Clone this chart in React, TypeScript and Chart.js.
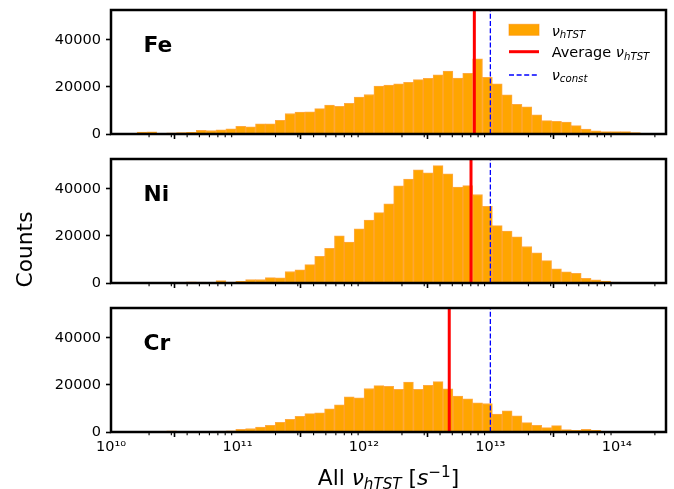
import React, { useEffect, useRef } from "react";
import { Chart, registerables } from "chart.js";

Chart.register(...registerables);

// ---------------- data ----------------
// log10 of the first histogram bin edge and the bin width (in decades), shared by all panels
const BIN_LOG_MIN = 10.206;
const BIN_LOG_WIDTH = 0.07805;

const FE_COUNTS = [
  800, 900, 150, 450, 600, 750, 1600, 1500, 1800, 2200,
  3300, 3000, 4300, 4300, 5800, 8700, 9300, 9400, 10800, 12300,
  11800, 13000, 15700, 16800, 20400, 20800, 21300, 22000, 23100, 23700,
  25200, 26700, 23800, 25800, 31900, 24100, 21300, 16600, 12600, 11600,
  8100, 5700, 5400, 5100, 3550, 2100, 1400, 1000, 1000, 1000,
  570,
];
const NI_COUNTS = [
  0, 0, 0, 0, 150, 450, 350, 300, 1000, 350,
  700, 1500, 1500, 2300, 2200, 4900, 5600, 7800, 11300, 14700,
  20000, 17400, 23000, 26700, 29900, 33600, 41300, 44200, 48100, 46800,
  49900, 46400, 40800, 41400, 37600, 32600, 24400, 22100, 19600, 15500,
  12800, 9500, 6000, 4800, 4100, 2000, 1300, 850, 430, 0,
  0,
];
const CR_COUNTS = [
  0, 0, 250, 450, 0, 200, 250, 300, 400, 500,
  1100, 1500, 2100, 2850, 4100, 5400, 6700, 7800, 8200, 9800,
  11500, 15000, 14500, 18500, 19700, 19400, 18100, 21200, 18100, 19800,
  21400, 18400, 15300, 14100, 12400, 12100, 7600, 9000, 6900, 4000,
  2850, 1850, 2700, 1000, 700, 1140, 700, 0, 0, 0,
  0,
];
const PANEL_LABELS = ["Fe", "Ni", "Cr"];
const PANEL_COUNTS = [FE_COUNTS, NI_COUNTS, CR_COUNTS];
const AVERAGE_NU = [7.47e12, 7.03e12, 4.73e12];
const NU_CONST = 1e13;

const X_MIN = 1e10;
const X_MAX = 2.449e14;
const Y_MAX = 52700;
const X_TICK_EXPONENTS = [10, 11, 12, 13, 14];
const Y_TICKS = [0, 20000, 40000];

// ---------------- layout ----------------
const W = 674;
const PLOT_LEFT = 111;
const PLOT_RIGHT = 666;
const PANEL_TOP = [0, 150, 300];
const PANEL_H = [150, 150, 189];
const AREA_TOP = [10, 9, 8];
const AREA_BOTTOM = [134, 133, 132];

const FONT = "DejaVu Sans";
const TICK_SIZE = 14.5;
const LABEL_SIZE = 21.75;

const SUP: Record<string, string> = {
  "0": "⁰", "1": "¹", "2": "²", "3": "³", "4": "⁴",
  "5": "⁵", "6": "⁶", "7": "⁷", "8": "⁸", "9": "⁹", "-": "⁻",
};
const sup = (n: number) => String(n).split("").map((c) => SUP[c]).join("");

type Part = { t: string; size: number; italic?: boolean; bold?: boolean; dy?: number };
const fontOf = (p: Part) =>
  `${p.italic ? "italic " : ""}${p.bold ? "bold " : ""}${p.size}px "${FONT}"`;

function drawRich(ctx: CanvasRenderingContext2D, parts: Part[], x: number, y: number, center = false) {
  let total = 0;
  for (const p of parts) {
    ctx.font = fontOf(p);
    total += ctx.measureText(p.t).width;
  }
  let cx = center ? x - total / 2 : x;
  ctx.textAlign = "left";
  ctx.textBaseline = "alphabetic";
  for (const p of parts) {
    ctx.font = fontOf(p);
    ctx.fillText(p.t, cx, y + (p.dy || 0));
    cx += ctx.measureText(p.t).width;
  }
}

function makeOverlay(idx: number) {
  return {
    id: "overlay" + idx,
    afterDraw(chart: any) {
      const ctx: CanvasRenderingContext2D = chart.ctx;
      const { left, right, top, bottom } = chart.chartArea;
      const xs = chart.scales.x;
      ctx.save();
      ctx.fillStyle = "#000";
      ctx.strokeStyle = "#000";
      // minor ticks
      ctx.lineWidth = 1.1;
      for (const e of X_TICK_EXPONENTS) {
        for (let k = 2; k <= 9; k++) {
          const v = k * Math.pow(10, e);
          if (v <= X_MIN || v >= X_MAX) continue;
          const px = xs.getPixelForValue(v);
          ctx.beginPath();
          ctx.moveTo(px, bottom);
          ctx.lineTo(px, bottom + 3.2);
          ctx.stroke();
        }
      }
      // frame
      ctx.lineWidth = 2.5;
      ctx.strokeRect(left, top, right - left, bottom - top);
      // panel label
      drawRich(ctx, [{ t: PANEL_LABELS[idx], size: LABEL_SIZE, bold: true }], left + 32.5, top + 42.3);

      if (idx === 0) {
        // legend
        const lx = 509;
        const tx = 551.7;
        ctx.fillStyle = "#ffa500";
        ctx.fillRect(lx, 24.3, 30, 11);
        ctx.strokeStyle = "rgba(255,140,0,0.6)";
        ctx.lineWidth = 1;
        ctx.strokeRect(lx, 24.3, 30, 11);
        ctx.strokeStyle = "red";
        ctx.lineWidth = 3;
        ctx.beginPath();
        ctx.moveTo(lx, 51.7);
        ctx.lineTo(lx + 30, 51.7);
        ctx.stroke();
        ctx.strokeStyle = "blue";
        ctx.lineWidth = 1.3;
        ctx.setLineDash([5, 2.6]);
        ctx.beginPath();
        ctx.moveTo(lx, 75);
        ctx.lineTo(lx + 30, 75);
        ctx.stroke();
        ctx.setLineDash([]);
        ctx.fillStyle = "#000";
        drawRich(ctx, [
          { t: "ν", size: TICK_SIZE, italic: true },
          { t: "hTST", size: 10.2, italic: true, dy: 2.5 },
        ], tx, 35.7);
        drawRich(ctx, [
          { t: "Average ", size: TICK_SIZE },
          { t: "ν", size: TICK_SIZE, italic: true },
          { t: "hTST", size: 10.2, italic: true, dy: 2.5 },
        ], tx, 57.3);
        drawRich(ctx, [
          { t: "ν", size: TICK_SIZE, italic: true },
          { t: "const", size: 10.2, italic: true, dy: 2.5 },
        ], tx, 79.6);
      }
      if (idx === 1) {
        ctx.translate(32, 249.5 - PANEL_TOP[1]);
        ctx.rotate(-Math.PI / 2);
        drawRich(ctx, [{ t: "Counts", size: LABEL_SIZE }], 0, 0, true);
      }
      if (idx === 2) {
        drawRich(ctx, [
          { t: "All ", size: LABEL_SIZE },
          { t: "ν", size: LABEL_SIZE, italic: true },
          { t: "hTST", size: 15.2, italic: true, dy: 4.2 },
          { t: " [", size: LABEL_SIZE },
          { t: "s", size: LABEL_SIZE, italic: true },
          { t: "−1", size: 15.2, dy: -8.5 },
          { t: "]", size: LABEL_SIZE },
        ], (PLOT_LEFT + PLOT_RIGHT) / 2, 485 - PANEL_TOP[2], true);
      }
      ctx.restore();
    },
  };
}

function Panel({ idx }: { idx: number }) {
  const ref = useRef<HTMLCanvasElement>(null);
  useEffect(() => {
    const counts = PANEL_COUNTS[idx];
    const bars = counts
      .map((c, i) => ({ x: Math.pow(10, BIN_LOG_MIN + (i + 0.5) * BIN_LOG_WIDTH), y: c }))
      .filter((p) => p.y > 0);
    const isBottom = idx === 2;
    const chart = new Chart(ref.current as HTMLCanvasElement, {
      type: "bar",
      data: {
        datasets: [
          {
            type: "line",
            data: [{ x: AVERAGE_NU[idx], y: 0 }, { x: AVERAGE_NU[idx], y: Y_MAX }],
            borderColor: "red",
            borderWidth: 3,
            pointRadius: 0,
            order: 0,
          } as any,
          {
            type: "line",
            data: [{ x: NU_CONST, y: 0 }, { x: NU_CONST, y: Y_MAX }],
            borderColor: "blue",
            borderWidth: 1.3,
            borderDash: [5, 2.2],
            pointRadius: 0,
            order: 1,
          } as any,
          {
            type: "bar",
            data: bars,
            backgroundColor: "#ffa500",
            borderColor: "rgba(255,140,0,0.75)",
            borderWidth: 1,
            barPercentage: 1,
            categoryPercentage: 1,
            order: 2,
          } as any,
        ],
      },
      options: {
        responsive: false,
        animation: false,
        events: [],
        layout: { padding: { left: 0, right: W - PLOT_RIGHT, top: AREA_TOP[idx], bottom: 0 } },
        plugins: { legend: { display: false }, tooltip: { enabled: false } },
        scales: {
          x: {
            type: "logarithmic",
            min: X_MIN,
            max: X_MAX,
            offset: false,
            border: { display: false },
            grid: { drawOnChartArea: false, drawTicks: true, tickLength: 5, tickWidth: 1.6, tickColor: "#000" },
            ticks: {
              display: isBottom,
              autoSkip: false,
              maxRotation: 0,
              padding: 2,
              color: "#000",
              font: { family: FONT, size: TICK_SIZE },
              callback: (v: any) => "10" + sup(Math.round(Math.log10(Number(v)))),
            },
            afterBuildTicks: (s: any) => {
              s.ticks = X_TICK_EXPONENTS.map((e) => ({ value: Math.pow(10, e) }));
            },
            afterFit: (s: any) => {
              s.height = PANEL_H[idx] - AREA_BOTTOM[idx];
              s.paddingLeft = 0;
              s.paddingRight = 0;
              s.paddingTop = 0;
              s.paddingBottom = 0;
            },
          } as any,
          y: {
            type: "linear",
            min: 0,
            max: Y_MAX,
            border: { display: false },
            grid: { drawOnChartArea: false, drawTicks: true, tickLength: 5, tickWidth: 1.6, tickColor: "#000" },
            ticks: {
              padding: 5,
              color: "#000",
              font: { family: FONT, size: TICK_SIZE },
              callback: (v: any) => String(v),
            },
            afterBuildTicks: (s: any) => {
              s.ticks = Y_TICKS.map((v) => ({ value: v }));
            },
            afterFit: (s: any) => {
              s.width = PLOT_LEFT;
              s.paddingLeft = 0;
              s.paddingRight = 0;
              s.paddingTop = 0;
              s.paddingBottom = 0;
            },
          } as any,
        },
      },
      plugins: [makeOverlay(idx)],
    });
    return () => chart.destroy();
  }, [idx]);
  return (
    <canvas
      ref={ref}
      width={W}
      height={PANEL_H[idx]}
      style={{ position: "absolute", left: 0, top: PANEL_TOP[idx], width: W, height: PANEL_H[idx] }}
    />
  );
}

export default function App() {
  return (
    <div style={{ position: "absolute", left: 0, top: 0, width: W, height: 489, background: "#fff" }}>
      <Panel idx={0} />
      <Panel idx={1} />
      <Panel idx={2} />
    </div>
  );
}
